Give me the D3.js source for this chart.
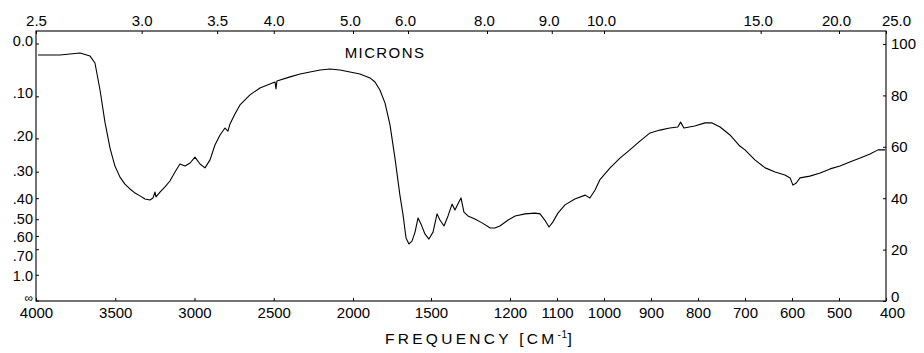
<!DOCTYPE html>
<html>
<head>
<meta charset="utf-8">
<script src="https://cdn.jsdelivr.net/npm/d3@7"></script>
<style>
  html, body { margin: 0; padding: 0; background: #fff; }
  svg { display: block; }
  text { font-family: "Liberation Sans", Arial, Helvetica, sans-serif; fill: #000; }
</style>
</head>
<body>
<svg id="chart" width="924" height="353"></svg>
<script>
// ---- data ----
const wavenumbers = [3987,3849,3722,3659,3628,3596,3565,3533,3502,3470,3439,3407,3375,3344,3312,3281,3262,3249,3243,3218,3186,3155,3123,3092,3060,3028,2997,2965,2934,2902,2871,2839,2808,2789,2776,2745,2713,2650,2587,2524,2492,2486,2480,2397,2334,2271,2208,2145,2082,2019,1958,1897,1867,1837,1806,1776,1746,1716,1697,1679,1660,1638,1616,1594,1573,1544,1515,1491,1473,1460,1442,1424,1406,1393,1380,1366,1353,1335,1304,1272,1243,1233,1222,1204,1189,1168,1147,1136,1126,1117,1109,1098,1083,1062,1040,1030,1019,1009,987,966,945,923,902,881,860,843,837,830,807,785,770,753,732,711,700,679,657,636,615,604,598,591,583,562,540,519,498,477,455,434,417,402];
const transmittance = [95.7,95.7,96.5,95.3,92.6,82.1,69.6,59.5,52.5,48.2,45.5,43.6,42.0,40.9,39.7,39.3,40.1,42.4,40.5,42.4,44.4,46.7,50.2,53.3,52.5,53.7,56.0,53.3,51.8,54.9,60.7,64.6,67.3,66.1,68.9,72.8,76.3,80.2,82.9,84.4,85.2,82.5,85.6,87.2,88.3,89.1,89.9,90.3,89.9,89.1,88.3,86.8,85.2,82.1,77.0,68.5,55.6,41.2,33.5,24.5,22.2,23.3,26.8,32.3,30.0,26.1,24.1,26.8,33.9,31.5,29.2,33.1,37.7,35.4,37.7,40.1,34.6,33.1,31.9,30.4,28.4,28.4,29.2,31.5,33.1,33.9,34.2,33.9,31.5,28.8,30.7,34.2,37.4,39.7,41.2,40.1,43.2,47.1,51.8,55.6,58.8,62.3,65.4,66.5,67.3,67.7,69.6,67.3,68.1,69.3,69.3,67.7,64.6,60.3,58.8,54.9,51.8,50.2,49.0,47.9,45.1,45.9,47.9,48.6,49.8,51.4,52.5,54.1,55.6,57.2,58.8,58.8];

const freqTicks = [4000,3500,3000,2500,2000,1500,1200,1100,1000,900,800,700,600,500,400];
const micronTicks = [2.5,3.0,3.5,4.0,5.0,6.0,8.0,9.0,10.0,15.0,20.0,25.0];
const micronLabels = ["2.5","3.0","3.5","4.0","5.0","6.0","8.0","9.0","10.0","15.0","20.0","25.0"];
const absTicks = [0,0.1,0.2,0.3,0.4,0.5,0.6,0.7,1.0,Infinity];
const absLabels = ["0.0",".10",".20",".30",".40",".50",".60",".70","1.0","\u221e"];
const pctTicks = [0,20,40,60,80,100];

(function () {
// ---- layout ----
const mLeft = 36, mRight = 886, mTop = 31, mBottom = 301;
const svg = d3.select("#chart");

// chart paper: piecewise-linear wavenumber scale
const x = d3.scaleLinear()
  .domain([4000,2000,1667,1500,1250,1200,400])
  .range([36,353,408,431,487,510,886]);
const y = d3.scaleLinear().domain([0,100]).range([301,44]);

// frame
svg.append("rect")
  .attr("x", mLeft).attr("y", mTop)
  .attr("width", mRight - mLeft).attr("height", mBottom - mTop)
  .attr("fill", "none").attr("stroke", "#000").attr("stroke-width", 1.1);

const fontSize = 15;

// bottom axis (frequency)
const gb = svg.append("g").attr("transform", `translate(0,${mBottom})`)
  .call(d3.axisBottom(x).tickValues(freqTicks).tickFormat(d3.format("d"))
        .tickSizeInner(-3).tickSizeOuter(0).tickPadding(6));
gb.select(".domain").remove();
gb.selectAll("line").attr("stroke", "#000");
gb.selectAll("text").attr("font-size", fontSize)
  .attr("dx", d => d === 400 ? 6 : 0);

// top axis (microns)
const gt = svg.append("g").attr("transform", `translate(0,${mTop})`)
  .call(d3.axisTop(x).tickValues(micronTicks.map(m => 1e4 / m))
        .tickFormat((d, i) => micronLabels[i])
        .tickSizeInner(-3).tickSizeOuter(0).tickPadding(5));
gt.select(".domain").remove();
gt.selectAll("line").attr("stroke", "#000");
gt.selectAll("text").attr("font-size", fontSize)
  .attr("dx", (d, i) => i === micronTicks.length - 1 ? 10 : (i >= 4 ? -3 : 0));

// left axis (absorbance)
const absPos = a => y(100 * Math.pow(10, -a));
const labelShift = [-3, -4, -3, -1, 0, -1, 0, 6, 1, -3];
const gl = svg.append("g").attr("transform", `translate(${mLeft},0)`);
absTicks.forEach((a, i) => {
  const yy = absPos(a);
  gl.append("line").attr("x1", 0).attr("x2", 3).attr("y1", yy).attr("y2", yy)
    .attr("stroke", "#000");
  gl.append("text").attr("x", -3).attr("y", yy + labelShift[i]).attr("dy", "0.35em")
    .attr("text-anchor", "end")
    .attr("font-size", i === 9 ? 12 : 14.5)
    .text(absLabels[i]);
});

// right axis (% transmittance)
const gr = svg.append("g").attr("transform", `translate(${mRight},0)`)
  .call(d3.axisRight(y).tickValues(pctTicks).tickFormat(d3.format("d"))
        .tickSizeInner(-3).tickSizeOuter(0).tickPadding(5));
gr.select(".domain").remove();
gr.selectAll("line").attr("stroke", "#000");
gr.selectAll("text").attr("font-size", fontSize)
  .attr("dy", d => d === 0 ? "0.0em" : "0.32em");

// spectrum trace
const pts = wavenumbers.map((w, i) => [w, transmittance[i]]);
svg.append("path")
  .datum(pts)
  .attr("fill", "none")
  .attr("stroke", "#000")
  .attr("stroke-width", 1.1)
  .attr("stroke-linejoin", "round")
  .attr("d", d3.line().x(d => x(d[0])).y(d => y(d[1])));

// titles
svg.append("text").attr("x", 385).attr("y", 58).attr("text-anchor", "middle")
  .attr("font-size", 15).attr("letter-spacing", 1.4).text("MICRONS");
const ft = svg.append("text").attr("x", 480).attr("y", 344).attr("text-anchor", "middle")
  .attr("font-size", 15.5).attr("letter-spacing", 3.3);
ft.append("tspan").text("FREQUENCY [CM");
ft.append("tspan").attr("dy", -6).attr("font-size", 10).attr("letter-spacing", 0.5).text("-1");
ft.append("tspan").attr("dy", 6).text("]");
})();
</script>
</body>
</html>
